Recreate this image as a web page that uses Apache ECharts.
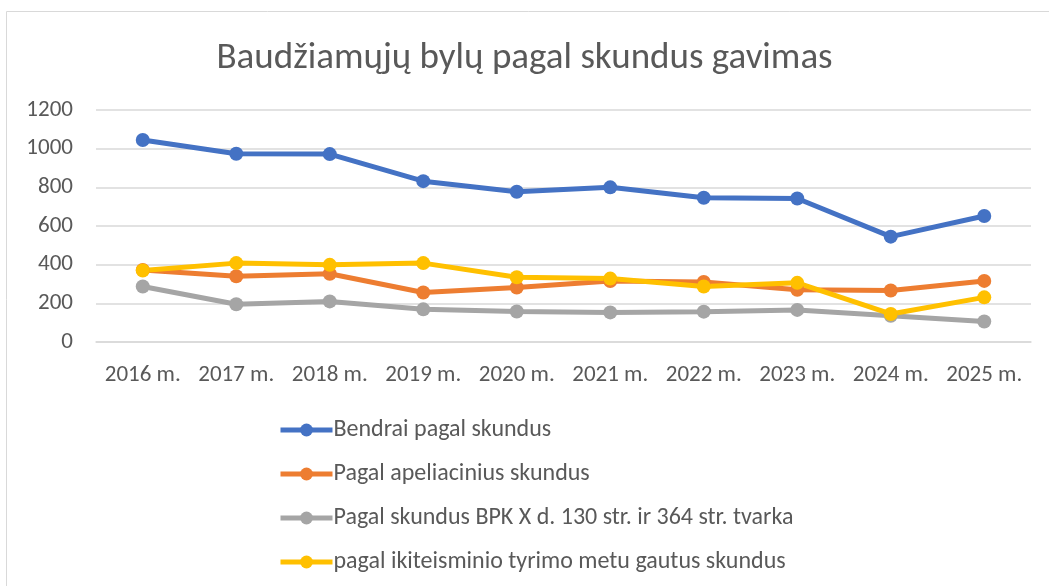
<!DOCTYPE html>
<html>
<head>
<meta charset="utf-8">
<script src="https://cdn.jsdelivr.net/npm/echarts@6/dist/echarts.min.js"></script>
<style>
  html, body { margin: 0; padding: 0; background: #fff; }
  #chart { width: 1049px; height: 586px; }
</style>
</head>
<body>
<div id="chart"></div>
<script>
const years = ['2016 m.', '2017 m.', '2018 m.', '2019 m.', '2020 m.', '2021 m.', '2022 m.', '2023 m.', '2024 m.', '2025 m.']
const bendrai = [1045, 974, 972, 832, 777, 800, 746, 742, 545, 652]
const apeliaciniai = [373, 340, 353, 256, 282, 315, 310, 270, 266, 316]
const bpk = [287, 195, 210, 169, 158, 153, 157, 166, 136, 106]
const ikiteisminio = [370, 408, 399, 408, 335, 328, 287, 306, 145, 231]
const yTicks = [0, 200, 400, 600, 800, 1000, 1200]

const seriesDefs = [
  { name: 'Bendrai pagal skundus', data: bendrai, color: '#4472C4' },
  { name: 'Pagal apeliacinius skundus', data: apeliaciniai, color: '#ED7D31' },
  { name: 'Pagal skundus BPK X d. 130 str. ir 364 str. tvarka', data: bpk, color: '#A5A5A5' },
  { name: 'pagal ikiteisminio tyrimo metu gautus skundus', data: ikiteisminio, color: '#FFC000' }
]

const font = 'Carlito, Lato, "Open Sans", sans-serif'
const chart = echarts.init(document.getElementById('chart'))

const option = {
  animation: false,
  textStyle: { fontFamily: font },
  graphic: [{
    type: 'rect',
    shape: { x: 6.5, y: 11.5, width: 1100, height: 700 },
    style: { fill: 'none', stroke: '#d9d9d9', lineWidth: 1 },
    silent: true
  }],
  title: {
    text: 'Baudžiamųjų bylų pagal skundus gavimas',
    left: 'center',
    top: 35,
    textStyle: { fontFamily: font, fontSize: 37, fontWeight: 'normal', color: '#595959' }
  },
  legend: {
    orient: 'vertical',
    left: 273,
    top: 413,
    itemGap: 20,
    itemWidth: 52,
    itemHeight: 16,
    lineStyle: { width: 5 },
    textStyle: { fontFamily: font, fontSize: 24, color: '#595959', padding: [0, 0, 0, -4] },
    data: seriesDefs.map(s => s.name)
  },
  grid: {
    left: 96,
    right: 18,
    top: 110,
    height: 232,
    containLabel: false
  },
  xAxis: {
    type: 'category',
    boundaryGap: true,
    data: years,
    axisLine: { lineStyle: { color: '#d9d9d9', width: 1.5 } },
    axisTick: { show: false },
    axisLabel: { color: '#595959', fontSize: 23, margin: 22, interval: 0, fontFamily: font }
  },
  yAxis: {
    type: 'value',
    min: yTicks[0],
    max: yTicks[yTicks.length - 1],
    interval: 200,
    axisLine: { show: false },
    axisTick: { show: false },
    splitLine: { lineStyle: { color: '#d9d9d9', width: 1.5 } },
    axisLabel: { color: '#595959', fontSize: 23, margin: 23, fontFamily: font, formatter: v => String(v) }
  },
  series: seriesDefs.map(s => ({
    name: s.name,
    type: 'line',
    data: s.data,
    symbol: 'circle',
    symbolSize: 14,
    itemStyle: { color: s.color },
    lineStyle: { color: s.color, width: 5 },
    emphasis: { disabled: true }
  }))
}

chart.setOption(option)
</script>
</body>
</html>
